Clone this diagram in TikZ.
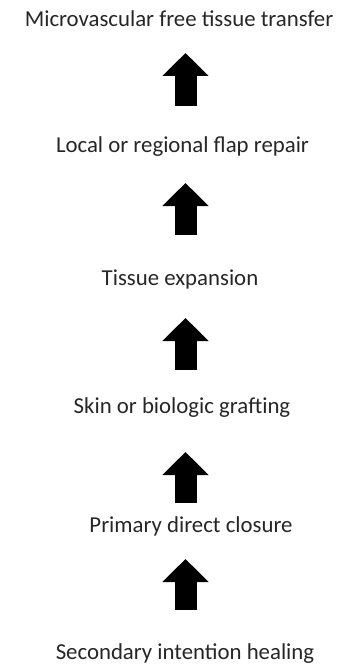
\documentclass[tikz,border=0pt]{standalone}
\usepackage{fontspec}
\setmainfont{Carlito}
\usetikzlibrary{arrows.meta}
\begin{document}
\begin{tikzpicture}[x=1pt,y=-1pt,
  lbl/.style={anchor=base,inner sep=0pt,font=\fontsize{22.8}{27}\selectfont,text=black!85},
  bigarrow/.style={line width=22pt,-{Triangle[width=45pt,length=23pt]}}]
\useasboundingbox (0,0) rectangle (351,666);
\node[lbl] (t1) at (179,27) {Microvascular free tissue transfer};
\node[lbl] (t2) at (182.5,152) {Local or regional flap repair};
\node[lbl] (t3) at (180,285) {Tissue expansion};
\node[lbl] (t4) at (182,413) {Skin or biologic grafting};
\node[lbl] (t5) at (191,532) {Primary direct closure};
\node[lbl] (t6) at (185,659) {Secondary intention healing};
\coordinate (a1b) at (185.5,106); \coordinate (a1t) at (185.5,53);
\coordinate (a2b) at (185.5,235); \coordinate (a2t) at (185.5,183);
\coordinate (a3b) at (185.5,370); \coordinate (a3t) at (185.5,318);
\coordinate (a4b) at (185.5,503); \coordinate (a4t) at (185.5,452);
\coordinate (a5b) at (185.5,610); \coordinate (a5t) at (185.5,559);
\draw[bigarrow] (a1b) -- (a1t);
\draw[bigarrow] (a2b) -- (a2t);
\draw[bigarrow] (a3b) -- (a3t);
\draw[bigarrow] (a4b) -- (a4t);
\draw[bigarrow] (a5b) -- (a5t);
\end{tikzpicture}
\end{document}
